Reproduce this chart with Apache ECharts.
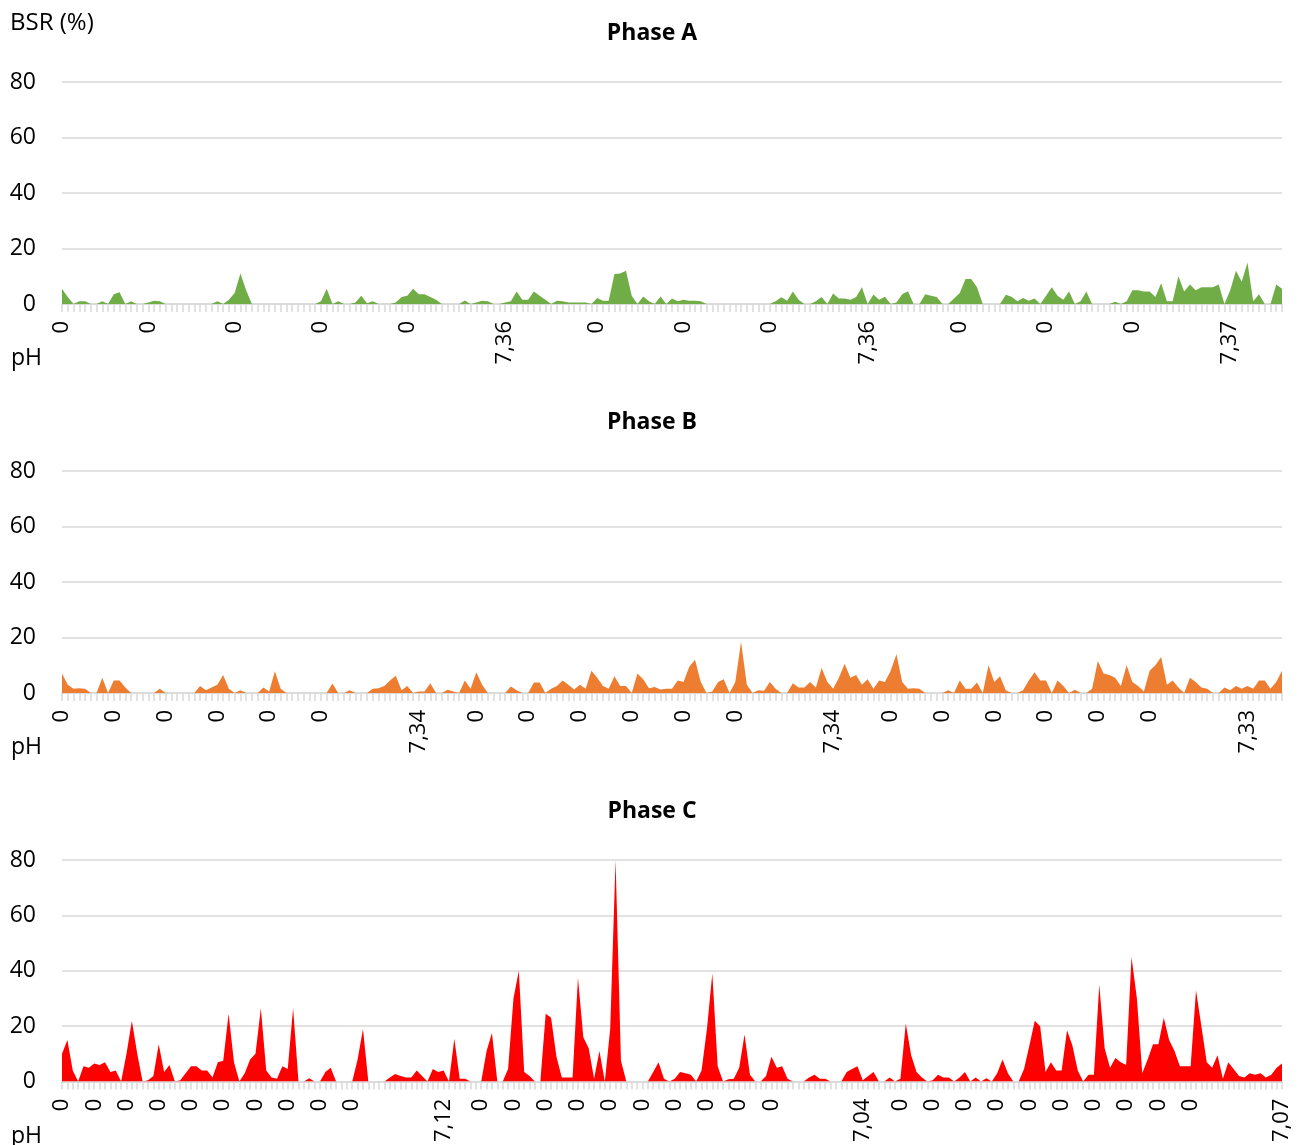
<!DOCTYPE html>
<html>
<head>
<meta charset="utf-8">
<script src="https://cdn.jsdelivr.net/npm/echarts@6/dist/echarts.min.js"></script>
<style>
    html, body { margin: 0; padding: 0; background: #fff; }
    #chart { width: 1304px; height: 1145px; }
</style>
</head>
<body>
<div id="chart"></div>
<script>
// BSR (%) per sample
var phaseA = [
    5.5, 2.5, 0, 1, 1, 0, 0, 1, 0, 3.5,
    4.2, 0, 1, 0, 0, 0.5, 1.2, 1, 0, 0,
    0, 0, 0, 0, 0, 0, 0, 1, 0, 1.5,
    4, 11, 5, 0, 0, 0, 0, 0, 0, 0,
    0, 0, 0, 0, 0, 1, 5.5, 0, 1, 0,
    0, 0.5, 3, 0.3, 1, 0, 0, 0, 0.5, 2.5,
    3, 5.5, 3.5, 3.5, 2.5, 1.5, 0, 0, 0, 0,
    1.3, 0, 0.5, 1.2, 1, 0, 0, 0.5, 1, 4.5,
    1.5, 1.5, 4.5, 3, 1.5, 0, 1.2, 1, 0.5, 0.5,
    0.5, 0.5, 0, 2.2, 1.2, 1.2, 10.8, 11, 12, 3,
    0, 2.7, 1, 0, 2.7, 0, 2, 1, 1.5, 1.2,
    1.2, 1, 0, 0, 0, 0, 0, 0, 0, 0,
    0, 0, 0, 0, 1, 2.4, 1.2, 4.5, 1.5, 0,
    0, 1, 2.5, 0, 3.8, 2, 2, 1.5, 2.5, 6,
    0, 3.4, 1.5, 2.6, 0, 0.5, 3.5, 4.6, 0, 0,
    3.5, 3, 2.5, 0, 0, 2, 4, 9, 9, 6,
    0, 0, 0, 0, 3.3, 2.6, 1, 2.2, 1.2, 2,
    0, 3, 6, 3, 1.5, 4.5, 0, 1, 4.5, 0,
    0, 0, 0, 0.8, 0, 1, 5, 5, 4.5, 4.5,
    2.5, 7.5, 1, 1, 10, 4.5, 7, 5, 6, 6,
    6, 7, 0, 5, 12, 8, 15, 1, 3.5, 0,
    0, 7, 5.5
];
var phaseB = [
    7, 3, 1.5, 1.7, 1.5, 0, 0, 5.5, 0, 4.5,
    4.5, 2, 0, 0, 0, 0, 0, 1.5, 0, 0,
    0, 0, 0, 0, 2.5, 1, 2, 3, 6.5, 1.5,
    0, 1, 0, 0, 0, 2, 0.5, 7.8, 1.5, 0,
    0, 0, 0, 0, 0, 0, 0, 3.4, 0, 0,
    1, 0, 0, 0, 1.5, 1.7, 2.5, 4.5, 6.2, 1,
    2.5, 0, 0.5, 0.5, 3.5, 0, 0, 1.2, 0.5, 0,
    4.5, 1.5, 7.5, 3, 0, 0, 0, 0, 2.3, 1,
    0, 0, 3.8, 3.8, 0, 1.5, 2.5, 4.5, 3, 1.3,
    3, 1.5, 8, 5.5, 2.5, 1.5, 6, 2.5, 2.5, 0,
    7, 5, 1.7, 2.2, 1.3, 1.5, 1.5, 4.5, 4, 9.5,
    12, 4, 0, 0.5, 4, 5, 0, 4, 18.5, 3,
    0, 1, 0.8, 4, 1.5, 0, 0, 3.5, 2, 2,
    4, 2, 9, 4, 1.5, 5.5, 10.5, 5.5, 6.5, 3,
    5, 1.5, 4.5, 4, 8, 14, 4, 1.5, 1.7, 1.5,
    0, 0, 0, 0, 1, 0, 4.5, 1.5, 1.5, 3.8,
    0, 10, 4, 6, 1, 0, 0, 1, 4.5, 7.5,
    4.5, 4.5, 0, 4.5, 2.5, 0, 1.2, 0, 0, 1.5,
    11.5, 7, 6.5, 5.5, 2.5, 10, 4, 2.5, 0.5, 8,
    10, 13, 3, 4.5, 2, 0, 5.5, 4, 2, 1.5,
    0, 0, 2, 1, 2.5, 1.5, 2.5, 1.5, 4.5, 4.5,
    1.5, 4, 8
];
var phaseC = [
    10, 15, 4, 0, 5.5, 5, 6.5, 6, 7, 3.5,
    4, 0, 10, 22, 10, 0, 0.5, 2, 13.5, 3.5,
    6, 0, 0.5, 3, 5.5, 5.5, 4, 4, 1.5, 7,
    7.5, 24.5, 7, 0, 3, 8, 10, 26.5, 4, 1.5,
    1, 5.5, 4.5, 26.5, 0, 0, 1.2, 0, 0, 3.5,
    5, 0, 0, 0, 0, 8, 19, 0, 0, 0,
    0, 1.5, 2.7, 2, 1.5, 1.5, 4, 2, 0, 4.5,
    3.5, 4, 0, 15.5, 1, 1, 0, 0, 0, 11,
    17.5, 0, 0, 4.5, 30, 40, 3.5, 2, 0, 0,
    24.5, 23, 9, 1.5, 1.5, 1.5, 37.5, 16, 12, 1,
    11, 0, 19, 80, 7.5, 0, 0, 0, 0, 0,
    3.5, 7, 1, 0, 1, 3.5, 3, 2.5, 0, 4,
    19, 39, 5.5, 0, 0.8, 1, 5, 17, 2.5, 0,
    0, 2, 9, 5, 5.5, 1, 0, 0, 0, 1.5,
    2.5, 1, 1, 0, 0, 0, 3.5, 4.5, 5.5, 0.5,
    2, 3.5, 0, 0, 1.5, 0, 1, 21, 9.5, 3.5,
    1.5, 0, 0.5, 2.5, 1.5, 1.5, 0, 1.5, 3.5, 0,
    1.5, 0, 1.2, 0, 3, 8, 3, 0, 0, 4.5,
    13, 22, 20, 3.5, 7, 4, 4, 18.5, 13, 4,
    0, 2.5, 2.5, 35, 12, 5, 8.5, 7, 6, 45,
    30, 3, 8, 13.5, 13.5, 23, 15, 11, 5.5, 5.5,
    5.5, 33, 20, 7, 5, 9.5, 1, 7, 4.5, 2,
    1.5, 3, 2.5, 3, 1.5, 2.5, 5, 6.5
];

// category positions that carry a label ("0" or a pH reading)
var zeroA = [0, 15, 30, 45, 60, 93, 108, 123, 156, 171, 186];
var phA = [[77, '7,36'], [140, '7,36'], [203, '7,37']];
var zeroB = [0, 9, 18, 27, 36, 45, 72, 81, 90, 99, 108, 117, 144, 153, 162, 171, 180, 189];
var phB = [[62, '7,34'], [134, '7,34'], [206, '7,33']];
var zeroC = [0, 6, 12, 18, 24, 30, 36, 42, 48, 54,
    78, 84, 90, 96, 102, 108, 114, 120, 126, 132,
    156, 162, 168, 174, 180, 186, 192, 198, 204, 210];
var phC = [[71, '7,12'], [149, '7,04'], [227, '7,07']];

var titles = ['Phase A', 'Phase B', 'Phase C'];
var colors = ['#70ad47', '#ed7d31', '#ff0000'];

var font = 'Open Sans';
var gridTops = [82, 471, 860];

function buildCategories(n, zeros, ph) {
    var cats = [];
    for (var i = 0; i < n; i++) cats.push('');
    zeros.forEach(function (i) { cats[i] = '0'; });
    ph.forEach(function (p) { cats[p[0]] = p[1]; });
    return cats;
}

var datasets = [phaseA, phaseB, phaseC];
var categories = [
    buildCategories(phaseA.length, zeroA, phA),
    buildCategories(phaseB.length, zeroB, phB),
    buildCategories(phaseC.length, zeroC, phC)
];

var chart = echarts.init(document.getElementById('chart'), null, {renderer: 'canvas'});

var grids = [], xAxes = [], yAxes = [], series = [], graphics = [];

graphics.push({
    type: 'text', x: 10, y: 23,
    style: {text: 'BSR (%)', font: '24px "Open Sans"', fill: '#000', textAlign: 'left', textVerticalAlign: 'middle'}
});

for (var k = 0; k < 3; k++) {
    var gTop = gridTops[k];
    grids.push({left: 62, width: 1220, top: gTop, height: 222});
    xAxes.push({
        type: 'category',
        gridIndex: k,
        data: categories[k],
        boundaryGap: false,
        axisLine: {lineStyle: {color: '#d9d9d9', width: 1.5}},
        axisTick: {show: true, interval: 0, length: 8, lineStyle: {color: '#d9d9d9', width: 1.5}},
        axisLabel: {interval: 0, rotate: 90, fontSize: 22, fontFamily: font, color: '#000', margin: 17},
        splitLine: {show: false}
    });
    yAxes.push({
        type: 'value',
        gridIndex: k,
        min: 0,
        max: 80,
        interval: 20,
        axisLine: {show: false},
        axisTick: {show: false},
        axisLabel: {fontSize: 23, fontFamily: font, color: '#000', margin: 26},
        splitLine: {lineStyle: {color: '#d9d9d9', width: 1.5}}
    });
    series.push({
        type: 'line',
        xAxisIndex: k,
        yAxisIndex: k,
        data: datasets[k],
        symbol: 'none',
        lineStyle: {width: 0, opacity: 0},
        itemStyle: {color: colors[k]},
        areaStyle: {color: colors[k], opacity: 1}
    });
    graphics.push({
        type: 'text', x: 652, y: gTop - 49,
        style: {text: titles[k], font: 'bold 23px "Open Sans"', fill: '#000', textAlign: 'center', textVerticalAlign: 'middle'}
    });
    graphics.push({
        type: 'text', x: 11, y: gTop + 276,
        style: {text: 'pH', font: '23px "Open Sans"', fill: '#000', textAlign: 'left', textVerticalAlign: 'middle'}
    });
}

chart.setOption({
    animation: false,
    backgroundColor: '#fff',
    textStyle: {fontFamily: font},
    grid: grids,
    xAxis: xAxes,
    yAxis: yAxes,
    series: series,
    graphic: graphics
});
</script>
</body>
</html>
